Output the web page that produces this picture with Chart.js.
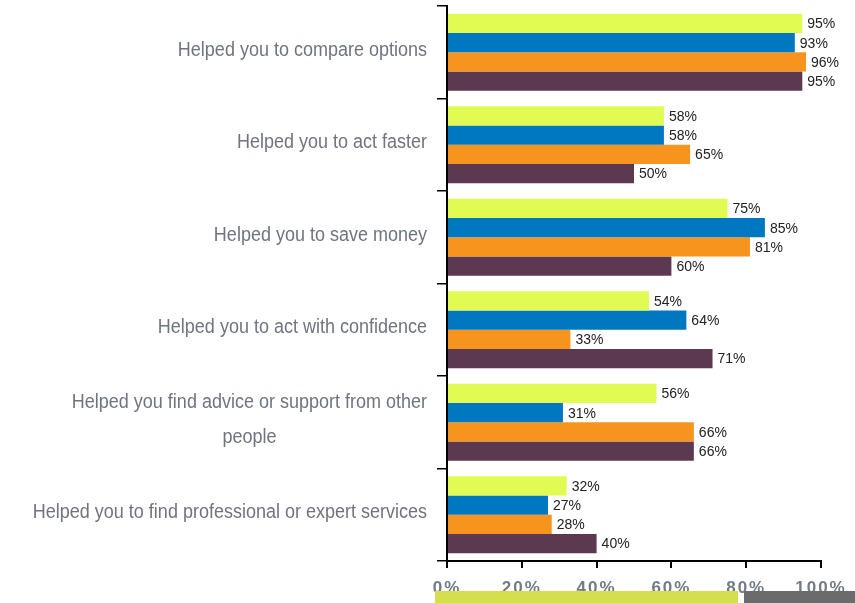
<!DOCTYPE html>
<html>
<head>
<meta charset="utf-8">
<script src="https://cdn.jsdelivr.net/npm/chart.js@4/dist/chart.umd.min.js"></script>
<style>
  html, body { margin: 0; padding: 0; background: #fff; }
  #wrap { width: 855px; height: 603px; position: relative; }
</style>
</head>
<body>
<div id="wrap"><canvas id="c"></canvas></div>
<script>
// Categories (multi-line entries are arrays of lines)
const categories = [
  'Helped you to compare options',
  'Helped you to act faster',
  'Helped you to save money',
  'Helped you to act with confidence',
  ['Helped you find advice or support from other', 'people'],
  'Helped you to find professional or expert services'
];

// Series values (%)
const seriesA = [95, 58, 75, 54, 56, 32];
const seriesB = [93, 58, 85, 64, 31, 27];
const seriesC = [96, 65, 81, 33, 66, 28];
const seriesD = [95, 50, 60, 71, 66, 40];

const seriesNames = ['Series A', 'Series B', 'Series C', 'Series D'];
const seriesColors = ['#e2fb52', '#0078c1', '#f7941d', '#5d3851'];

// X axis tick values
const xTicks = [0, 20, 40, 60, 80, 100];

// Category labels drawn to the left of the y axis, in a condensed face
const categoryLabelPlugin = {
  id: 'categoryLabels',
  afterDraw(chart) {
    const ctx = chart.ctx;
    const y = chart.scales.y;
    const rightEdge = chart.chartArea.left - 20;
    const squeeze = 0.9;
    ctx.save();
    ctx.font = '20px "Liberation Sans", Arial, sans-serif';
    ctx.fillStyle = '#6e7580';
    ctx.textBaseline = 'middle';
    ctx.scale(squeeze, 1);
    categories.forEach((lab, i) => {
      const cy = y.getPixelForValue(i) - 2;
      if (Array.isArray(lab)) {
        const widest = Math.max(...lab.map(l => ctx.measureText(l).width)) * squeeze;
        const cx = rightEdge - widest / 2;
        const lh = 35;
        const top = cy - (lab.length - 1) * lh / 2;
        ctx.textAlign = 'center';
        lab.forEach((l, k) => ctx.fillText(l, cx / squeeze, top + k * lh));
      } else {
        ctx.textAlign = 'right';
        ctx.fillText(lab, rightEdge / squeeze, cy);
      }
    });
    ctx.restore();
  }
};

// Value labels at the end of each bar
const valueLabelPlugin = {
  id: 'valueLabels',
  afterDatasetsDraw(chart) {
    const ctx = chart.ctx;
    ctx.save();
    ctx.font = '14px "Liberation Sans", Arial, sans-serif';
    ctx.fillStyle = '#222';
    ctx.textAlign = 'left';
    ctx.textBaseline = 'middle';
    chart.data.datasets.forEach((ds, di) => {
      const meta = chart.getDatasetMeta(di);
      meta.data.forEach((bar, i) => {
        ctx.fillText(ds.data[i] + '%', bar.x + 5, bar.y + 1);
      });
    });
    ctx.restore();
  }
};

// Spaced-out x tick labels, plus the footer strip along the bottom edge
const xLabelSpacingPlugin = {
  id: 'xLabelSpacing',
  beforeDraw(chart) {
    const sc = chart.scales.x;
    if (!sc._spacedLabels) {
      const orig = sc.drawLabels;
      sc.drawLabels = function (area) {
        const ctx = this.ctx;
        ctx.save();
        ctx.letterSpacing = '2px';
        orig.call(this, area);
        ctx.restore();
      };
      sc._spacedLabels = true;
    }
  },
  afterDraw(chart) {
    const ctx = chart.ctx;
    ctx.save();
    ctx.fillStyle = '#d5df4e';
    ctx.fillRect(435, 591, 303, 12);
    ctx.fillStyle = '#6b6b6b';
    ctx.fillRect(744, 591, 111, 12);
    ctx.restore();
  }
};

new Chart(document.getElementById('c'), {
  type: 'bar',
  data: {
    labels: categories,
    datasets: [seriesA, seriesB, seriesC, seriesD].map((d, i) => ({
      label: seriesNames[i],
      data: d,
      backgroundColor: seriesColors[i],
      borderWidth: 0,
      categoryPercentage: 0.83,
      barPercentage: 1.0
    }))
  },
  options: {
    indexAxis: 'y',
    responsive: true,
    maintainAspectRatio: false,
    animation: false,
    layout: { padding: { top: 6, right: 34, left: 0, bottom: 0 } },
    plugins: {
      legend: { display: false },
      tooltip: { enabled: false }
    },
    scales: {
      y: {
        type: 'category',
        grid: {
          offset: true,
          drawOnChartArea: false,
          drawTicks: true,
          tickLength: 10,
          color: '#000',
          lineWidth: 1.5
        },
        border: { display: true, color: '#000', width: 2 },
        ticks: { display: false },
        afterFit(scale) { scale.width = 447; }
      },
      x: {
        min: 0,
        max: 100,
        afterBuildTicks(scale) { scale.ticks = xTicks.map(v => ({ value: v })); },
        grid: {
          drawOnChartArea: false,
          drawTicks: true,
          tickLength: 7,
          color: '#000',
          lineWidth: 2
        },
        border: { display: true, color: '#000', width: 2 },
        ticks: {
          padding: 10,
          color: '#707b87',
          font: { family: '"Liberation Sans", Arial, sans-serif', size: 17, weight: 'bold' },
          callback: v => v + '%',
          maxRotation: 0,
          autoSkip: false
        },
        afterFit(scale) { scale.height = 42; }
      }
    }
  },
  plugins: [categoryLabelPlugin, valueLabelPlugin, xLabelSpacingPlugin]
});
</script>
</body>
</html>
